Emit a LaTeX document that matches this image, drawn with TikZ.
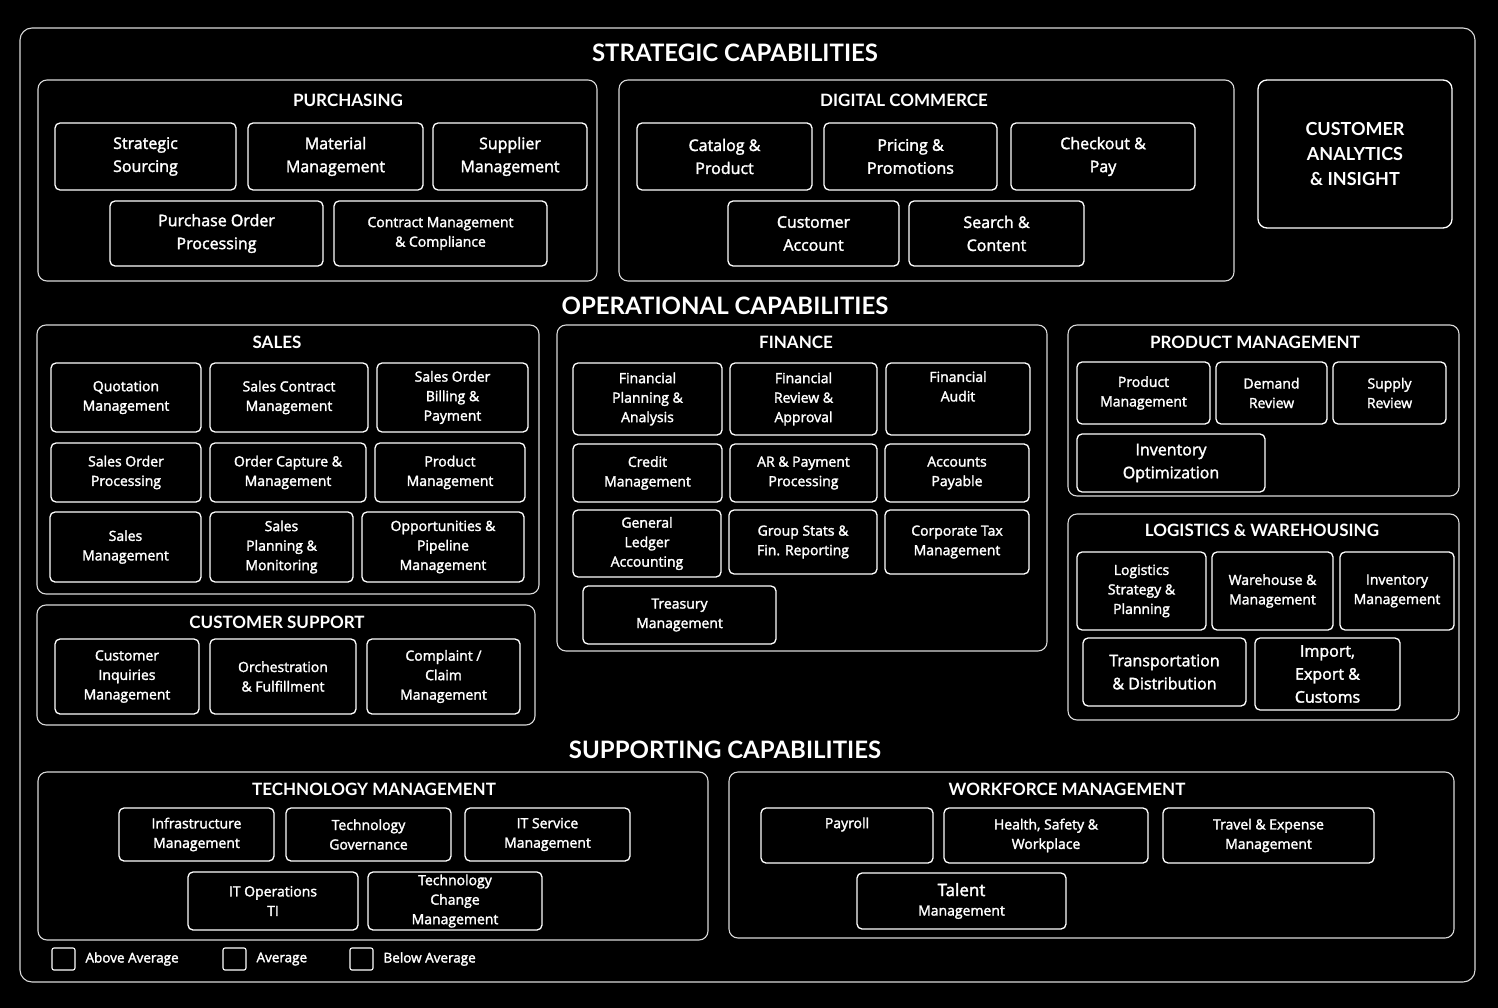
\documentclass[tikz,border=0pt]{standalone}
\usepackage{fontspec}
\setmainfont{Open Sans}
\newfontfamily\medf{Open Sans}[FakeBold=2]
\newfontfamily\hdf{Lato}
\begin{document}
\begin{tikzpicture}[x=1pt,y=-1pt,
 box/.style={draw=white,line width=1.3pt,rounded corners=5pt,text=white,align=center,inner sep=0pt,font=\medf\fontsize{14}{19.5}\selectfont},
 bigbox/.style={box,font=\medf\fontsize{16}{23}\selectfont},
 grp/.style={draw=white!85!black,line width=1.1pt,rounded corners=9pt},
 gt/.style={text=white,font=\hdf\bfseries\fontsize{17}{20}\selectfont},
 st/.style={text=white,font=\hdf\bfseries\fontsize{24}{26}\selectfont},
 lg/.style={text=white,font=\medf\fontsize{13.5}{16}\selectfont,anchor=west}]
\newcommand\bx[7][box]{\node[#1,minimum width=#5pt-#3pt,minimum height=#6pt-#4pt] (#2) at ({(#3+#5)/2},{(#4+#6)/2}) {#7};}
\newcommand\gr[5]{\draw[grp] (#2,#3) rectangle (#4,#5); \coordinate (#1) at (#2,#3);}
\fill[black] (0,0) rectangle (1498,1008);
\useasboundingbox (0,0) rectangle (1498,1008);
\draw[grp,rounded corners=12pt] (20,28) rectangle (1475,982);
\node[st] (s1) at (735,53) {STRATEGIC CAPABILITIES};
\node[st] (s2) at (725,306) {OPERATIONAL CAPABILITIES};
\node[st] (s3) at (725,750) {SUPPORTING CAPABILITIES};
% purchasing
\gr{gp}{38}{80}{597}{281}\node[gt] (tp) at (348,100) {PURCHASING};
\bx[bigbox]{p1}{55}{123}{236}{190}{Strategic\\Sourcing}
\bx[bigbox]{p2}{248}{123}{423}{190}{Material\\Management}
\bx[bigbox]{p3}{433}{123}{587}{190}{Supplier\\Management}
\bx[bigbox]{p4}{110}{201}{323}{266}{Purchase Order\\Processing}
\bx{p5}{334}{201}{547}{266}{Contract Management\\\& Compliance}
% digital commerce
\gr{gd}{619}{80}{1234}{281}\node[gt] (td) at (904,100) {DIGITAL COMMERCE};
\bx[bigbox]{d1}{637}{123}{812}{190}{Catalog \&\\Product}
\bx[bigbox]{d2}{824}{123}{997}{190}{Pricing \&\\Promotions}
\bx[bigbox]{d3}{1011}{123}{1195}{190}{Checkout \&\\Pay}
\bx[bigbox]{d4}{728}{201}{899}{266}{Customer\\Account}
\bx[bigbox]{d5}{909}{201}{1084}{266}{Search \&\\Content}
\node[box,font=\hdf\bfseries\fontsize{18}{25}\selectfont,minimum width=194pt,minimum height=148pt,rounded corners=9pt] (ca) at (1355,154) {CUSTOMER\\ANALYTICS\\\& INSIGHT};
% sales
\gr{gs}{37}{325}{539}{594}\node[gt] (ts) at (277,342) {SALES};
\bx{a1}{51}{363}{201}{432}{Quotation\\Management}
\bx{a2}{210}{363}{368}{432}{Sales Contract\\Management}
\bx{a3}{377}{363}{528}{432}{Sales Order\\Billing \&\\Payment}
\bx{a4}{51}{443}{201}{502}{Sales Order\\Processing}
\bx{a5}{210}{443}{366}{502}{Order Capture \&\\Management}
\bx{a6}{375}{443}{525}{502}{Product\\Management}
\bx{a7}{50}{512}{201}{582}{Sales\\Management}
\bx{a8}{210}{512}{353}{582}{Sales\\Planning \&\\Monitoring}
\bx{a9}{362}{512}{524}{582}{Opportunities \&\\Pipeline\\Management}
% customer support
\gr{gc}{37}{605}{535}{725}\node[gt] (tc) at (277,622) {CUSTOMER SUPPORT};
\bx{c1}{55}{639}{199}{714}{Customer\\Inquiries\\Management}
\bx{c2}{210}{639}{356}{714}{Orchestration\\\& Fulfillment}
\bx{c3}{367}{639}{520}{714}{Complaint /\\Claim\\Management}
% finance
\gr{gf}{557}{325}{1047}{651}\node[gt] (tf) at (796,342) {FINANCE};
\bx{f1}{573}{363}{722}{435}{Financial\\Planning \&\\Analysis}
\bx{f2}{730}{363}{877}{435}{Financial\\Review \&\\Approval}
\bx{f3}{886}{363}{1030}{435}{Financial\\Audit\\\strut}
\bx{f4}{573}{444}{722}{502}{Credit\\Management}
\bx{f5}{730}{444}{877}{502}{AR \& Payment\\Processing}
\bx{f6}{885}{444}{1029}{502}{Accounts\\Payable}
\bx{f7}{573}{510}{721}{577}{General\\Ledger\\Accounting}
\bx{f8}{729}{510}{877}{574}{Group Stats \&\\Fin. Reporting}
\bx{f9}{885}{510}{1029}{574}{Corporate Tax\\Management}
\bx{f10}{583}{586}{776}{644}{Treasury\\Management}
% product management
\gr{gm}{1068}{325}{1459}{496}\node[gt] (tm) at (1255,342) {PRODUCT MANAGEMENT};
\bx{m1}{1077}{362}{1210}{424}{Product\\Management}
\bx{m2}{1216}{362}{1327}{424}{Demand\\Review}
\bx{m3}{1333}{362}{1446}{424}{Supply\\Review}
\bx[bigbox]{m4}{1077}{434}{1265}{492}{Inventory\\Optimization}
% logistics
\gr{gl}{1068}{514}{1459}{720}\node[gt] (tl) at (1262,530) {LOGISTICS \& WAREHOUSING};
\bx{l1}{1077}{552}{1206}{630}{Logistics\\Strategy \&\\Planning}
\bx{l2}{1212}{552}{1333}{630}{Warehouse \&\\Management}
\bx{l3}{1340}{552}{1454}{630}{Inventory\\Management}
\bx[bigbox]{l4}{1083}{638}{1246}{706}{Transportation\\\& Distribution}
\bx[bigbox]{l5}{1255}{638}{1400}{710}{Import,\\Export \&\\Customs}
% technology
\gr{gt1}{38}{772}{708}{940}\node[gt] (tt) at (374,789) {TECHNOLOGY MANAGEMENT};
\bx{t1}{119}{808}{274}{861}{Infrastructure\\Management}
\bx{t2}{286}{808}{451}{861}{Technology\\Governance}
\bx{t3}{465}{808}{630}{861}{IT Service\\Management}
\bx{t4}{188}{872}{358}{930}{IT Operations\\TI}
\bx{t5}{368}{872}{542}{930}{Technology\\Change\\Management}
% workforce
\gr{gw}{729}{772}{1454}{938}\node[gt] (tw) at (1067,789) {WORKFORCE MANAGEMENT};
\bx{w1}{761}{808}{933}{863}{Payroll\\\strut}
\bx{w2}{944}{808}{1148}{863}{Health, Safety \&\\Workplace}
\bx{w3}{1163}{808}{1374}{863}{Travel \& Expense\\Management}
\bx{w4}{857}{873}{1066}{929}{{\fontsize{17}{19}\selectfont Talent}\\Management}
% legend
\draw[white,line width=1.1pt,rounded corners=2pt] (52,948) rectangle (75,970);
\draw[white,line width=1.1pt,rounded corners=2pt] (223,948) rectangle (246,970);
\draw[white,line width=1.1pt,rounded corners=2pt] (350,948) rectangle (373,970);
\node[lg] (g1) at (82,959) {Above Average};
\node[lg] (g2) at (253,959) {Average};
\node[lg] (g3) at (380,959) {Below Average};
\end{tikzpicture}
\end{document}
